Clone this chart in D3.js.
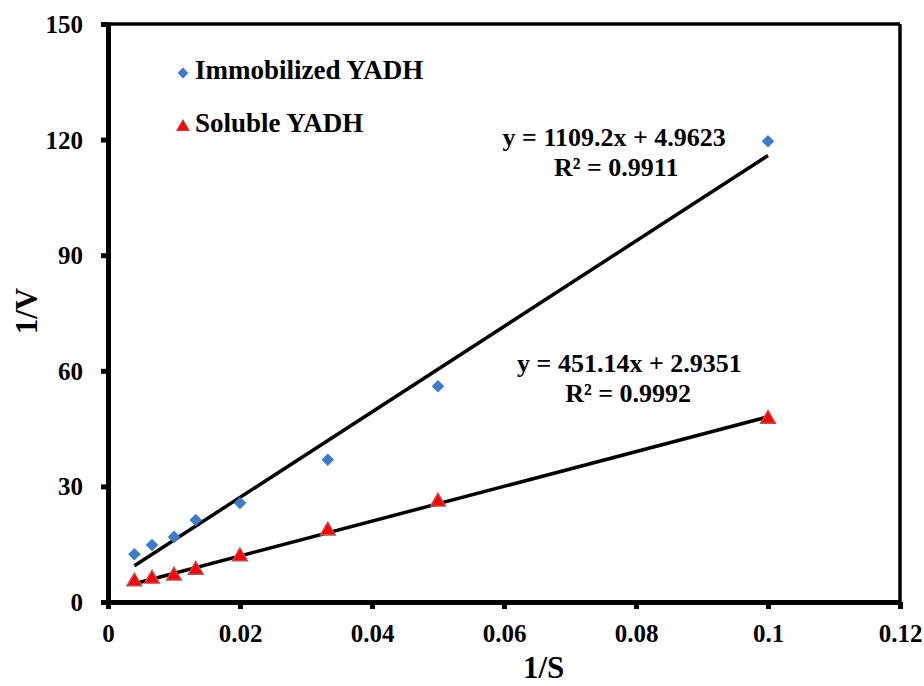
<!DOCTYPE html>
<html>
<head>
<meta charset="utf-8">
<script src="https://cdn.jsdelivr.net/npm/d3@7"></script>
<style>
  body { margin: 0; background: #fff; }
  text { font-family: 'Liberation Serif', 'Times New Roman', serif; font-weight: bold; fill: #000; }
</style>
</head>
<body>
<div id="chart"></div>
<script>
// data
const invS = [0.004, 0.00667, 0.01, 0.0133, 0.02, 0.0333, 0.05, 0.1]
const immobilized = [12.4, 14.8, 16.9, 21.3, 25.7, 36.9, 56.0, 119.6]
const soluble = [5.3, 6.0, 6.8, 8.3, 11.8, 18.5, 26.0, 47.5]
const xTicks = [0, 0.02, 0.04, 0.06, 0.08, 0.1, 0.12]
const yTicks = [0, 30, 60, 90, 120, 150]
// trendline coefficients [slope, intercept] as printed on the chart
const fitImmobilized = [1109.2, 4.9623]
const fitSoluble = [451.14, 2.9351]

const margin = { top: 24, left: 108, right: 24, bottom: 84 }
const width = 924 - margin.left - margin.right
const height = 686 - margin.top - margin.bottom

const svg = d3
  .select('#chart')
  .append('svg')
  .attr('width', 924)
  .attr('height', 686)
  .append('g')
  .attr('transform', 'translate(' + margin.left + ',' + margin.top + ')')

const xScale = d3.scaleLinear().domain([0, 0.12]).range([0, width])
const yScale = d3.scaleLinear().domain([0, 150]).range([height, 0])

// top and right border (thinner than the axes)
svg.append('line')
  .attr('x1', 0).attr('x2', width)
  .attr('y1', 0).attr('y2', 0)
  .attr('stroke', '#000').attr('stroke-width', 3.5)
svg.append('line')
  .attr('x1', width).attr('x2', width)
  .attr('y1', 0).attr('y2', height)
  .attr('stroke', '#000').attr('stroke-width', 3.5)

const xAxis = d3
  .axisBottom(xScale)
  .tickValues(xTicks)
  .tickSize(7)
  .tickSizeOuter(0)
  .tickFormat(d => (d === 0 ? '0' : String(+d.toFixed(2))))

svg
  .append('g')
  .attr('class', 'axis x-axis')
  .attr('transform', `translate(0,${height})`)
  .call(xAxis)

const yAxis = d3.axisLeft(yScale).tickValues(yTicks).tickSize(7).tickSizeOuter(0)

svg
  .append('g')
  .attr('class', 'axis y-axis')
  .call(yAxis)

svg.selectAll('.axis').attr('font-family', null).attr('font-size', null)
svg.selectAll('.axis .domain').style('stroke', '#000').style('stroke-width', '5px')
svg.selectAll('.axis .tick line').style('stroke', '#000').style('stroke-width', '5px')
svg.selectAll('.x-axis .tick text')
  .attr('font-size', 25)
  .attr('y', 40)
  .attr('dy', null)
svg.selectAll('.y-axis .tick text')
  .attr('font-size', 25)
  .attr('x', -25)
  .attr('dy', '0.34em')

// axis titles
svg
  .append('text')
  .attr('x', xScale(0.066))
  .attr('y', height + 76)
  .attr('text-anchor', 'middle')
  .attr('font-size', 31)
  .text('1/S')

svg
  .append('text')
  .attr('transform', `translate(-71,${yScale(75) - 2}) rotate(-90)`)
  .attr('text-anchor', 'middle')
  .attr('font-size', 31)
  .text('1/V')

// trendlines
function trend(fit) {
  const x0 = d3.min(invS)
  const x1 = d3.max(invS)
  return [[x0, fit[0] * x0 + fit[1]], [x1, fit[0] * x1 + fit[1]]]
}

const line = d3
  .line()
  .x(d => xScale(d[0]))
  .y(d => yScale(d[1]))

svg.append('path')
  .datum(trend(fitImmobilized))
  .attr('d', line)
  .attr('stroke', '#000')
  .attr('stroke-width', 3.5)
  .attr('fill', 'none')

svg.append('path')
  .datum(trend(fitSoluble))
  .attr('d', line)
  .attr('stroke', '#000')
  .attr('stroke-width', 3.5)
  .attr('fill', 'none')

// points
const diamond = d3.symbol().type(d3.symbolDiamond2).size(100)
const triangle = d3.symbol().type(d3.symbolTriangle).size(95)

svg
  .selectAll('.immob')
  .data(invS)
  .enter()
  .append('path')
  .attr('class', 'immob')
  .attr('d', diamond)
  .attr('transform', (d, i) => `translate(${xScale(d)},${yScale(immobilized[i])})`)
  .attr('fill', '#3a7cc8')

svg
  .selectAll('.sol')
  .data(invS)
  .enter()
  .append('path')
  .attr('class', 'sol')
  .attr('d', triangle)
  .attr('transform', (d, i) => `translate(${xScale(d)},${yScale(soluble[i])})`)
  .attr('fill', '#ff0000')
  .attr('stroke', '#c0504d')
  .attr('stroke-width', 1.4)

// equation labels (baselines)
const eqs = [
  { x: 0.0767, y: 118.3, text: 'y = 1109.2x + 4.9623' },
  { x: 0.0770, y: 110.5, text: 'R² = 0.9911' },
  { x: 0.0790, y: 59.8, text: 'y = 451.14x + 2.9351' },
  { x: 0.0788, y: 52.0, text: 'R² = 0.9992' }
]

svg
  .selectAll('.eq')
  .data(eqs)
  .enter()
  .append('text')
  .attr('class', 'eq')
  .attr('x', d => xScale(d.x))
  .attr('y', d => yScale(d.y))
  .attr('text-anchor', 'middle')
  .attr('font-size', 26)
  .text(d => d.text)

// legend
const legend = svg.append('g').attr('transform', 'translate(75,49)')

legend.append('path')
  .attr('d', d3.symbol().type(d3.symbolDiamond2).size(75))
  .attr('fill', '#3a7cc8')

legend.append('text')
  .attr('x', 12)
  .attr('y', 6)
  .attr('font-size', 27)
  .text('Immobilized YADH')

legend.append('path')
  .attr('d', d3.symbol().type(d3.symbolTriangle).size(70))
  .attr('transform', 'translate(0,54)')
  .attr('fill', '#ff0000')
  .attr('stroke', '#c0504d')

legend.append('text')
  .attr('x', 12)
  .attr('y', 59)
  .attr('font-size', 27)
  .text('Soluble YADH')
</script>
</body>
</html>
